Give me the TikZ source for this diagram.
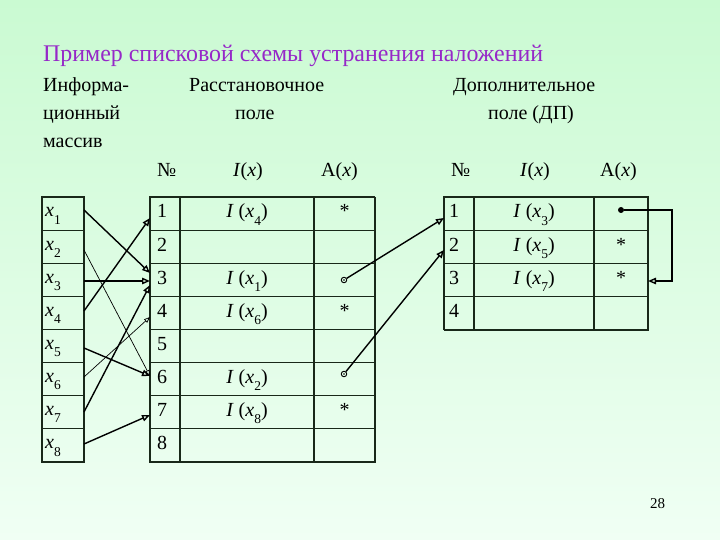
\documentclass[tikz,border=0pt]{standalone}
\usepackage{fontspec}
\setmainfont{Liberation Serif}
\usetikzlibrary{arrows.meta}
\definecolor{ln}{RGB}{25,40,25}
\definecolor{ttl}{RGB}{150,40,200}
\definecolor{bgtop}{RGB}{202,250,210}
\definecolor{bgbot}{RGB}{240,255,244}
\newcommand\xsub[1]{\textit{x}\raisebox{-0.36em}{\fontsize{13.5}{13.5}\selectfont #1}}
\begin{document}
\begin{tikzpicture}[x=1pt,y=-1pt,
  txt/.style={font=\fontsize{20}{24}\selectfont, inner sep=0pt, text=black},
  ttlstyle/.style={font=\fontsize{23.9}{28}\selectfont, inner sep=0pt, text=ttl},
  grid/.style={draw=ln, line width=1.1pt},
  heavy/.style={draw=ln, line width=2.4pt},
  medium/.style={draw=ln, line width=1.8pt},
  arr/.style={draw=black, line width=1.4pt, -{Triangle[open, length=8pt, width=6.5pt]}},
  arrthin/.style={draw=black, line width=0.7pt, -{Triangle[open, length=6pt, width=4.5pt]}},
  ring/.style={circle, draw=black, line width=0.9pt, inner sep=0pt, minimum size=5.5pt, path picture={\fill[black] (path picture bounding box.center) circle (0.9pt);}},
  dotnode/.style={circle, fill=black, inner sep=0pt, minimum size=6pt}
]
\shade[top color=bgtop, bottom color=bgbot] (0,0) rectangle (720,540);
\useasboundingbox (0,0) rectangle (720,540);

% titles and headings
\node[ttlstyle, anchor=base west] (title) at (43,62) {Пример списковой схемы устранения наложений};
\node[txt, anchor=base west] (h1) at (43,92) {Информа-};
\node[txt, anchor=base west] (h2) at (43,120) {ционный};
\node[txt, anchor=base west] (h3) at (43,148) {массив};
\node[txt, anchor=base west] (h4) at (189,92) {Расстановочное};
\node[txt, anchor=base west] (h5) at (235,120) {поле};
\node[txt, anchor=base west] (h6) at (453,92) {Дополнительное};
\node[txt, anchor=base west] (h7) at (488,120) {поле (ДП)};
\node[txt, anchor=base west] (c1) at (157,177) {№};
\node[txt, anchor=base west] (c2) at (233,177) {\textit{I}(\textit{x})};
\node[txt, anchor=base west] (c3) at (321,177) {A(\textit{x})};
\node[txt, anchor=base west] (c4) at (451,177) {№};
\node[txt, anchor=base west] (c5) at (520,177) {\textit{I}(\textit{x})};
\node[txt, anchor=base west] (c6) at (600,177) {A(\textit{x})};
\node[font=\fontsize{15}{17}\selectfont, inner sep=0pt, anchor=base west] (pg) at (650,508) {28};

% left table
\foreach \k in {1,...,7} \draw[grid] (42,{197+33.125*\k}) -- (84,{197+33.125*\k});
\draw[grid] (42,197) -- (84,197) -- (84,462);
\draw[heavy] (42,196) -- (42,462) -- (85,462);
\foreach \k in {1,...,8} \node[txt, anchor=base west] (L\k) at (45,{197+33.125*(\k-1)+20}) {\xsub{\k}};

% middle table
\foreach \k in {1,...,7} \draw[grid] (150,{197+33.125*\k}) -- (375,{197+33.125*\k});
\draw[grid] (150,462) -- (150,197) -- (375,197);
\draw[grid] (180,197) -- (180,462);
\draw[grid] (314,197) -- (314,462);
\draw[medium] (375,197) -- (375,462);
\draw[heavy] (149,462) -- (376,462);
\foreach \k in {1,...,8} \node[txt, anchor=base west] (N\k) at (157,{197+33.125*(\k-1)+21}) {\k};
\foreach \k/\v in {1/4,3/1,4/6,6/2,7/8} \node[txt, anchor=base] (I\k) at (247,{197+33.125*(\k-1)+21}) {\textit{I} (\xsub{\v})};
\foreach \k in {1,4,7} \node[txt, anchor=base] (S\k) at (344.5,{197+33.125*(\k-1)+21}) {*};

% right table
\foreach \k in {1,...,3} \draw[grid] (444,{197+33.125*\k}) -- (648,{197+33.125*\k});
\draw[grid] (444,330) -- (444,197) -- (648,197);
\draw[grid] (474,197) -- (474,330);
\draw[grid] (594,197) -- (594,330);
\draw[medium] (444,330) -- (648,330);
\draw[heavy] (648,196) -- (648,331);
\foreach \k in {1,...,4} \node[txt, anchor=base west] (M\k) at (449,{197+33.125*(\k-1)+21}) {\k};
\foreach \k/\v in {1/3,2/5,3/7} \node[txt, anchor=base] (J\k) at (534,{197+33.125*(\k-1)+21}) {\textit{I} (\xsub{\v})};
\foreach \k in {2,3} \node[txt, anchor=base] (T\k) at (621,{197+33.125*(\k-1)+21}) {*};

% connectors from the information array
\coordinate (a1s) at (84,210); \coordinate (a1e) at (150,273);
\coordinate (a2s) at (84,250); \coordinate (a2e) at (150,376);
\coordinate (a3s) at (84,281); \coordinate (a3e) at (150,281);
\coordinate (a4s) at (84,311); \coordinate (a4e) at (150,218);
\coordinate (a5s) at (84,348); \coordinate (a5e) at (150,376);
\coordinate (a6s) at (84,377); \coordinate (a6e) at (150,317);
\coordinate (a7s) at (84,412); \coordinate (a7e) at (150,285);
\coordinate (a8s) at (84,444); \coordinate (a8e) at (150,415);
\draw[arr] (a1s) -- (a1e);
\draw[arrthin] (a2s) -- (a2e);
\draw[arr] (a3s) -- (a3e);
\draw[arr] (a4s) -- (a4e);
\draw[arr] (a5s) -- (a5e);
\draw[arrthin] (a6s) -- (a6e);
\draw[arr] (a7s) -- (a7e);
\draw[arr] (a8s) -- (a8e);

% links into the additional field
\node[ring] (p1) at (344,280) {};
\node[ring] (p2) at (344,374) {};
\coordinate (b1e) at (444,218);
\coordinate (b2e) at (444,250);
\draw[arr] (p1) -- (b1e);
\draw[arr] (p2) -- (b2e);

% chain inside additional field
\node[dotnode] (d1) at (621,210) {};
\coordinate (r1) at (672,210);
\coordinate (r2) at (672,281);
\coordinate (r3) at (648,281);
\draw[arr] (d1) -- (r1) -- (r2) -- (r3);
\end{tikzpicture}
\end{document}
